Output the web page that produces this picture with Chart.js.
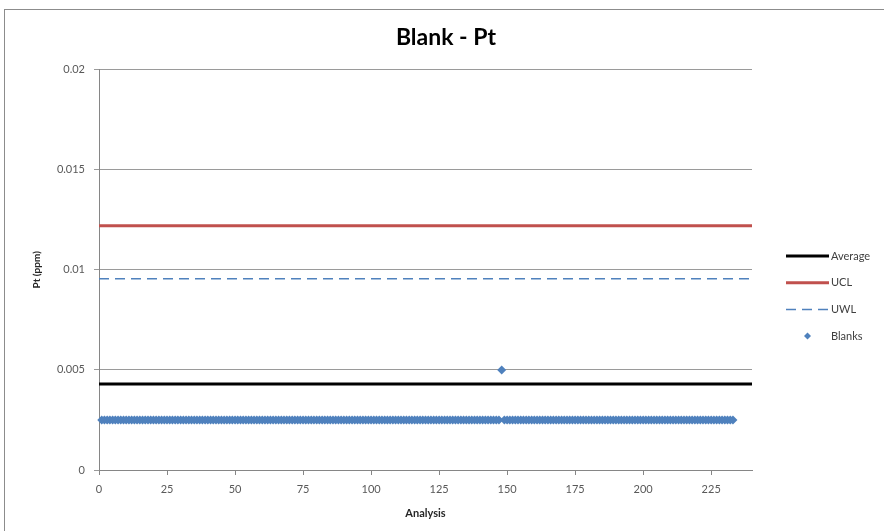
<!DOCTYPE html>
<html>
<head>
<meta charset="utf-8">
<script src="https://cdn.jsdelivr.net/npm/chart.js@4"></script>
<style>
  html, body { margin: 0; padding: 0; background: #fff; }
  #wrap { position: relative; width: 884px; height: 531px; overflow: hidden; }
  #frame { position: absolute; left: 4px; top: 9px; width: 1000px; height: 700px;
           border-top: 1px solid #8c8c8c; border-left: 1px solid #8c8c8c; pointer-events: none; }
</style>
</head>
<body>
<div id="wrap">
  <canvas id="chart" width="884" height="531"></canvas>
  <div id="frame"></div>
</div>
<script>
// control limits (ppm)
const averageLevel = 0.0043;
const uclLevel = 0.0122;
const uwlLevel = 0.00955;

// x extent of the limit lines
const xRange = [0, 240];
const xTickValues = [0, 25, 50, 75, 100, 125, 150, 175, 200, 225];
const yTickValues = [0, 0.005, 0.01, 0.015, 0.02];

// blank results, analysis 1..233
const blankValues = [
  0.0025, 0.0025, 0.0025, 0.0025, 0.0025, 0.0025, 0.0025, 0.0025, 0.0025, 0.0025, 0.0025, 0.0025, 0.0025, 0.0025, 0.0025, 0.0025, 0.0025, 0.0025, 0.0025, 0.0025,
  0.0025, 0.0025, 0.0025, 0.0025, 0.0025, 0.0025, 0.0025, 0.0025, 0.0025, 0.0025, 0.0025, 0.0025, 0.0025, 0.0025, 0.0025, 0.0025, 0.0025, 0.0025, 0.0025, 0.0025,
  0.0025, 0.0025, 0.0025, 0.0025, 0.0025, 0.0025, 0.0025, 0.0025, 0.0025, 0.0025, 0.0025, 0.0025, 0.0025, 0.0025, 0.0025, 0.0025, 0.0025, 0.0025, 0.0025, 0.0025,
  0.0025, 0.0025, 0.0025, 0.0025, 0.0025, 0.0025, 0.0025, 0.0025, 0.0025, 0.0025, 0.0025, 0.0025, 0.0025, 0.0025, 0.0025, 0.0025, 0.0025, 0.0025, 0.0025, 0.0025,
  0.0025, 0.0025, 0.0025, 0.0025, 0.0025, 0.0025, 0.0025, 0.0025, 0.0025, 0.0025, 0.0025, 0.0025, 0.0025, 0.0025, 0.0025, 0.0025, 0.0025, 0.0025, 0.0025, 0.0025,
  0.0025, 0.0025, 0.0025, 0.0025, 0.0025, 0.0025, 0.0025, 0.0025, 0.0025, 0.0025, 0.0025, 0.0025, 0.0025, 0.0025, 0.0025, 0.0025, 0.0025, 0.0025, 0.0025, 0.0025,
  0.0025, 0.0025, 0.0025, 0.0025, 0.0025, 0.0025, 0.0025, 0.0025, 0.0025, 0.0025, 0.0025, 0.0025, 0.0025, 0.0025, 0.0025, 0.0025, 0.0025, 0.0025, 0.0025, 0.0025,
  0.0025, 0.0025, 0.0025, 0.0025, 0.0025, 0.0025, 0.0025, 0.005,  0.0025, 0.0025, 0.0025, 0.0025, 0.0025, 0.0025, 0.0025, 0.0025, 0.0025, 0.0025, 0.0025, 0.0025,
  0.0025, 0.0025, 0.0025, 0.0025, 0.0025, 0.0025, 0.0025, 0.0025, 0.0025, 0.0025, 0.0025, 0.0025, 0.0025, 0.0025, 0.0025, 0.0025, 0.0025, 0.0025, 0.0025, 0.0025,
  0.0025, 0.0025, 0.0025, 0.0025, 0.0025, 0.0025, 0.0025, 0.0025, 0.0025, 0.0025, 0.0025, 0.0025, 0.0025, 0.0025, 0.0025, 0.0025, 0.0025, 0.0025, 0.0025, 0.0025,
  0.0025, 0.0025, 0.0025, 0.0025, 0.0025, 0.0025, 0.0025, 0.0025, 0.0025, 0.0025, 0.0025, 0.0025, 0.0025, 0.0025, 0.0025, 0.0025, 0.0025, 0.0025, 0.0025, 0.0025,
  0.0025, 0.0025, 0.0025, 0.0025, 0.0025, 0.0025, 0.0025, 0.0025, 0.0025, 0.0025, 0.0025, 0.0025, 0.0025
];

const FONT = 'Lato, "Liberation Sans", sans-serif';
const TEXT = '#595959';
const AXIS = '#868686';

function flatLine(level) {
  return xRange.map(x => ({ x: x, y: level }));
}

// legend drawn to the right of the plot, Excel style
const sideLegend = {
  id: 'sideLegend',
  afterDraw(chart) {
    const ctx = chart.ctx;
    const left = chart.chartArea.right + 34;
    const len = 43;
    ctx.save();
    ctx.font = '11px ' + FONT;
    ctx.textBaseline = 'middle';
    chart.data.datasets.forEach((ds, i) => {
      const y = 256 + i * 26.7;
      if (ds.showLine === false) {
        ctx.fillStyle = ds.backgroundColor;
        const cx = left + len / 2, r = 3.5;
        ctx.beginPath();
        ctx.moveTo(cx, y - r); ctx.lineTo(cx + r, y); ctx.lineTo(cx, y + r); ctx.lineTo(cx - r, y);
        ctx.closePath();
        ctx.fill();
      } else {
        ctx.strokeStyle = ds.borderColor;
        ctx.lineWidth = ds.borderWidth;
        ctx.setLineDash(ds.borderDash || []);
        ctx.beginPath();
        ctx.moveTo(left, y);
        ctx.lineTo(left + len, y);
        ctx.stroke();
        ctx.setLineDash([]);
      }
      ctx.fillStyle = '#404040';
      ctx.fillText(ds.label, left + len + 2, y);
    });
    ctx.restore();
  }
};

new Chart(document.getElementById('chart'), {
  type: 'scatter',
  data: {
    datasets: [
      {
        label: 'Average',
        data: flatLine(averageLevel),
        showLine: true,
        borderColor: '#000000',
        borderWidth: 3,
        pointRadius: 0
      },
      {
        label: 'UCL',
        data: flatLine(uclLevel),
        showLine: true,
        borderColor: '#C0504D',
        borderWidth: 3,
        pointRadius: 0
      },
      {
        label: 'UWL',
        data: flatLine(uwlLevel),
        showLine: true,
        borderColor: '#4F81BD',
        borderWidth: 1.5,
        borderDash: [10, 6],
        pointRadius: 0
      },
      {
        label: 'Blanks',
        data: blankValues.map((v, i) => ({ x: i + 1, y: v })),
        showLine: false,
        pointStyle: 'rectRot',
        pointRadius: 4.5,
        backgroundColor: '#4F81BD',
        borderWidth: 0,
        clip: false
      }
    ]
  },
  options: {
    responsive: false,
    animation: false,
    events: [],
    layout: { padding: { left: 8, right: 0, top: 0, bottom: 0 } },
    plugins: {
      legend: { display: false },
      tooltip: { enabled: false },
      title: {
        display: true,
        text: 'Blank - Pt',
        color: '#000000',
        font: { family: FONT, size: 23, weight: 'bold', lineHeight: 1.2 },
        padding: { top: 24, bottom: 18 }
      }
    },
    scales: {
      x: {
        type: 'linear',
        min: xRange[0],
        max: xRange[1],
        afterBuildTicks: s => { s.ticks = xTickValues.map(v => ({ value: v })); },
        afterFit: s => { s.height = 61; },
        grid: { drawOnChartArea: false, drawTicks: true, tickLength: 5, color: AXIS },
        border: { color: AXIS, width: 1 },
        ticks: { color: TEXT, font: { family: FONT, size: 11 }, padding: 8, maxRotation: 0 },
        title: {
          display: true,
          text: 'Analysis',
          color: '#262626',
          font: { family: FONT, size: 11, weight: 'bold' },
          padding: { top: 0, bottom: 11 }
        }
      },
      y: {
        min: 0,
        max: 0.02,
        afterBuildTicks: s => { s.ticks = yTickValues.map(v => ({ value: v })); },
        afterFit: s => { s.width = 91; },
        grid: { color: '#9a9a9a', tickLength: 5, drawTicks: true },
        border: { color: AXIS, width: 1 },
        ticks: {
          color: TEXT,
          font: { family: FONT, size: 11 },
          padding: 9,
          callback: v => String(+v.toFixed(3))
        },
        title: {
          display: true,
          text: 'Pt (ppm)',
          color: '#262626',
          font: { family: FONT, size: 10, weight: 'bold' },
          padding: { top: 23, bottom: 0 }
        }
      },
      // empty space on the right for the legend
      yRight: {
        position: 'right',
        display: true,
        grid: { display: false },
        border: { display: false },
        ticks: { display: false },
        afterFit: s => { s.width = 132; }
      }
    }
  },
  plugins: [sideLegend]
});
</script>
</body>
</html>
